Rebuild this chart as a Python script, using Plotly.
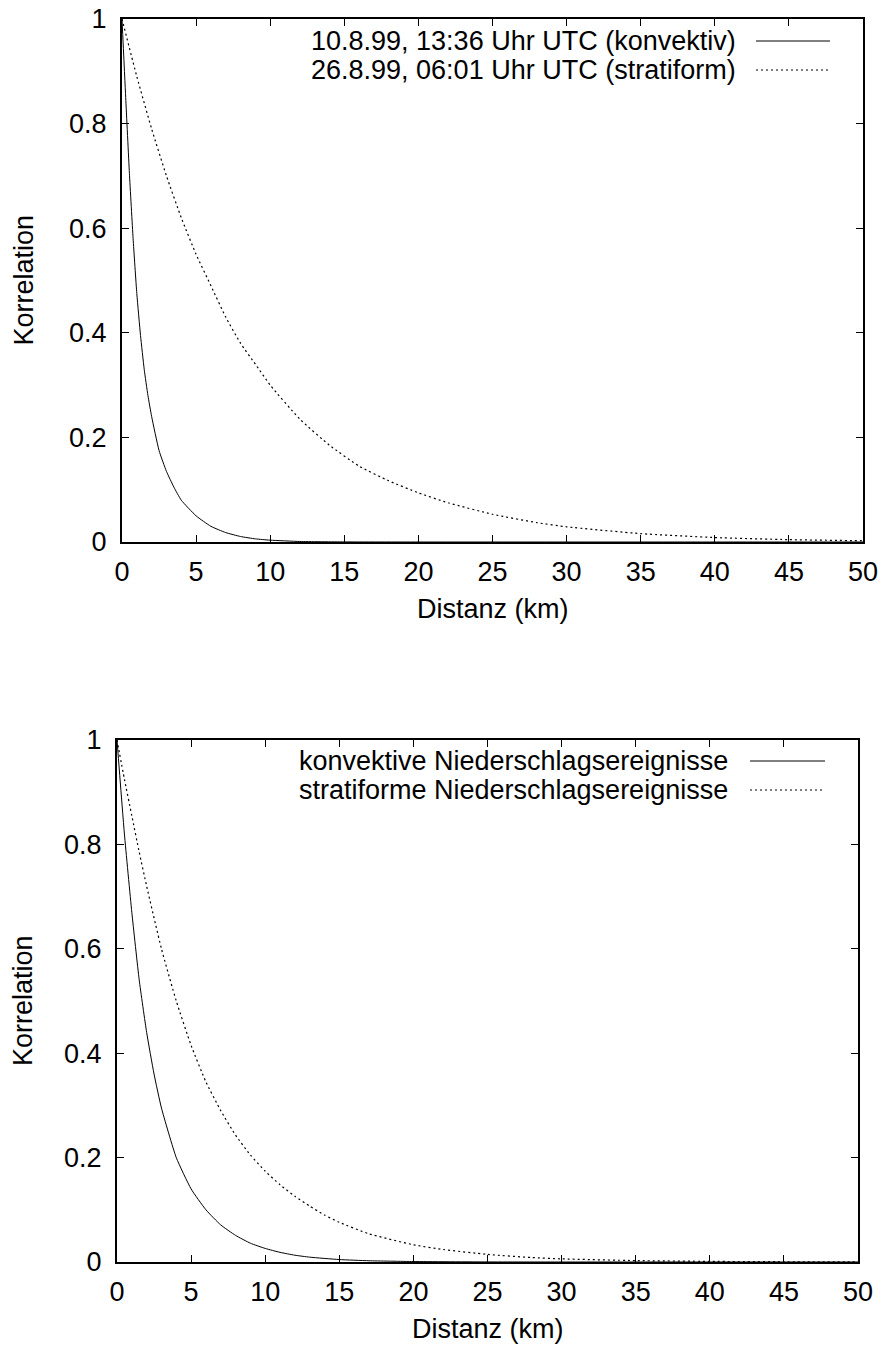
import plotly.graph_objects as go

# ---- data ----
x_top_konv = [0, 0.25, 0.5, 0.75, 1, 1.25, 1.5, 1.75, 2, 2.5, 3, 3.5, 4, 5, 6, 7, 8, 9, 10, 12, 15, 20, 30, 40, 50]
y_top_konv = [1.0, 0.85, 0.705, 0.58, 0.475, 0.395, 0.33, 0.28, 0.24, 0.175, 0.135, 0.105, 0.08, 0.05, 0.03, 0.018, 0.0105, 0.006, 0.0035, 0.001, 0.0002, 0, 0, 0, 0]

x_top_strat = [0, 1, 2, 3, 4, 5, 6, 7, 8, 9, 10, 12, 14, 16, 18, 20, 22, 25, 28, 30, 35, 40, 45, 50]
y_top_strat = [1.0, 0.89, 0.79, 0.70, 0.62, 0.55, 0.49, 0.43, 0.38, 0.34, 0.30, 0.235, 0.185, 0.145, 0.117, 0.094, 0.075, 0.053, 0.037, 0.029, 0.016, 0.0085, 0.0045, 0.0024]

x_bot_konv = [0, 0.5, 1, 1.5, 2, 2.5, 3, 4, 5, 6, 7, 8, 9, 10, 11, 12, 13, 15, 17, 20, 25, 30, 40, 50]
y_bot_konv = [1.0, 0.82, 0.67, 0.54, 0.44, 0.36, 0.295, 0.2, 0.14, 0.1, 0.071, 0.051, 0.036, 0.026, 0.0185, 0.013, 0.0093, 0.0047, 0.0024, 0.0009, 0.00015, 0.00002, 0, 0]

x_bot_strat = [0, 0.5, 1, 1.5, 2, 3, 4, 5, 6, 7, 8, 9, 10, 11, 12, 13, 14, 15, 17, 20, 22, 25, 28, 30, 35, 40, 45, 50]
y_bot_strat = [1.0, 0.925, 0.855, 0.785, 0.72, 0.6, 0.5, 0.415, 0.345, 0.29, 0.243, 0.205, 0.174, 0.148, 0.126, 0.107, 0.09, 0.076, 0.054, 0.033, 0.024, 0.0145, 0.0085, 0.006, 0.0027, 0.0012, 0.0005, 0.0002]

legend_top = ["10.8.99, 13:36 Uhr UTC (konvektiv)", "26.8.99, 06:01 Uhr UTC (stratiform)"]
legend_bot = ["konvektive Niederschlagsereignisse", "stratiforme Niederschlagsereignisse"]

x_ticks = [0, 5, 10, 15, 20, 25, 30, 35, 40, 45, 50]
y_ticks = [0, 0.2, 0.4, 0.6, 0.8, 1]
y_ticklabels = ["0", "0.2", "0.4", "0.6", "0.8", "1"]

x_title = "Distanz (km)"
y_title = "Korrelation"

# ---- layout constants ----
W, H = 884, 1348
FONT = "Liberation Sans, Arial, Helvetica, sans-serif"
FS = 27
DOT = "2px,3px"
SMOOTH = 0.5

def px_x(p):
    return p / W

def px_y(p):
    return 1 - p / H

fig = go.Figure()

solid = dict(color="black", width=1, shape="spline", smoothing=SMOOTH)
dotted = dict(color="black", width=1.2, dash=DOT, shape="spline", smoothing=SMOOTH)

fig.add_trace(go.Scatter(x=x_top_konv, y=y_top_konv, mode="lines", line=solid, xaxis="x", yaxis="y", showlegend=False))
fig.add_trace(go.Scatter(x=x_top_strat, y=y_top_strat, mode="lines", line=dotted, xaxis="x", yaxis="y", showlegend=False))
fig.add_trace(go.Scatter(x=x_bot_konv, y=y_bot_konv, mode="lines", line=solid, xaxis="x2", yaxis="y2", showlegend=False))
fig.add_trace(go.Scatter(x=x_bot_strat, y=y_bot_strat, mode="lines", line=dotted, xaxis="x2", yaxis="y2", showlegend=False))

axis_common = dict(
    showgrid=False, zeroline=False, showline=True, linecolor="black", linewidth=2,
    mirror="ticks", ticks="inside", ticklen=7, tickwidth=1, tickcolor="black",
    tickfont=dict(family=FONT, size=FS, color="black"), automargin=False,
)

xa = dict(axis_common, range=[0, 50], tickvals=x_ticks, ticktext=[str(v) for v in x_ticks],
          ticklabelstandoff=5)
ya = dict(axis_common, range=[0, 1], tickvals=y_ticks, ticktext=y_ticklabels,
          ticklabelstandoff=8)

TOP = (122, 863, 19, 542)
BOT = (117, 858, 740, 1262)

fig.update_layout(
    width=W, height=H, autosize=False,
    margin=dict(l=0, r=0, t=0, b=0, autoexpand=False),
    paper_bgcolor="white", plot_bgcolor="white",
    showlegend=False,
    xaxis=dict(xa, domain=[px_x(TOP[0]), px_x(TOP[1])], anchor="y"),
    yaxis=dict(ya, domain=[px_y(TOP[3]), px_y(TOP[2])], anchor="x"),
    xaxis2=dict(xa, domain=[px_x(BOT[0]), px_x(BOT[1])], anchor="y2"),
    yaxis2=dict(ya, domain=[px_y(BOT[3]), px_y(BOT[2])], anchor="x2"),
)

# axis titles
for (l, r, t, b) in (TOP, BOT):
    fig.add_annotation(text=x_title, xref="paper", yref="paper", x=px_x((l + r) / 2), y=px_y(b + 67),
                       xanchor="center", yanchor="middle", showarrow=False,
                       font=dict(family=FONT, size=FS, color="black"))
    fig.add_annotation(text=y_title, xref="paper", yref="paper", x=px_x(23), y=px_y((t + b) / 2),
                       xanchor="center", yanchor="middle", textangle=-90, showarrow=False,
                       font=dict(family=FONT, size=FS, color="black"))

# manual gnuplot-style key (text right-aligned, sample on the right)
def add_key(labels, text_right, line_x0, line_x1, rows_y):
    for i, (lab, yy) in enumerate(zip(labels, rows_y)):
        fig.add_annotation(text=lab, xref="paper", yref="paper", x=px_x(text_right), y=px_y(yy),
                           xanchor="right", yanchor="middle", showarrow=False,
                           font=dict(family=FONT, size=FS, color="black"))
        fig.add_shape(type="line", xref="paper", yref="paper", x0=px_x(line_x0), x1=px_x(line_x1),
                      y0=px_y(yy), y1=px_y(yy),
                      line=dict(color="black", width=1 if i == 0 else 1.2, dash="solid" if i == 0 else DOT))

add_key(legend_top, 738, 756, 830, [41, 70])
add_key(legend_bot, 730, 750, 825, [761, 790])

fig.write_html("out.html")
